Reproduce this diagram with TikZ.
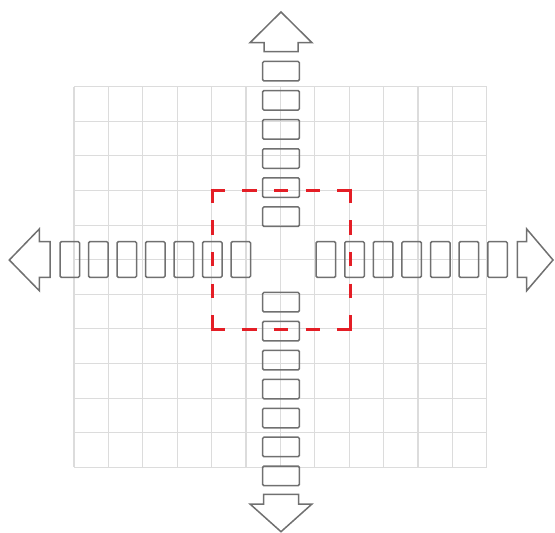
\documentclass[tikz,border=0pt]{standalone}
\begin{document}
\begin{tikzpicture}[x=1pt,y=-1pt,
  gridline/.style={draw=gridgray, line width=1.1pt},
  boxbase/.style={draw=boxgray, line width=1.5pt, rounded corners=1.2pt, inner sep=0pt, outer sep=0pt},
  vbox/.style={boxbase, minimum width=36.6pt, minimum height=19.5pt},
  hbox/.style={boxbase, minimum width=19.5pt, minimum height=35.6pt},
  bigarrow/.style={draw=boxgray, line width=1.5pt, line join=miter},
  reddash/.style={draw=dashred, line width=3pt, dash pattern=on 14.5pt off 17.2pt}]
\definecolor{boxgray}{HTML}{707070}
\definecolor{gridgray}{HTML}{DCDCDC}
\definecolor{dashred}{HTML}{E41E26}
\useasboundingbox (0,0) rectangle (555,533);
% grid
\foreach \i in {0,...,12} \draw[gridline] ({74+34.4*\i},86.7) -- ({74+34.4*\i},467.3);
\foreach \j in {0,...,11} \draw[gridline] (74,{86.7+34.6*\j}) -- (486.8,{86.7+34.6*\j});
% boxes
\foreach \k in {0,...,5} \node[vbox] (t\k) at (281,{216.7-29.1*\k}) {};
\foreach \k in {0,...,6} \node[vbox] (b\k) at (281,{302.2+28.95*\k}) {};
\foreach \k in {0,...,6} \node[hbox] (l\k) at ({240.8-28.5*\k},259.5) {};
\foreach \k in {0,...,6} \node[hbox] (r\k) at ({325.9+28.6*\k},259.5) {};
% arrows
\draw[bigarrow] (264,51.7) -- (264,42.7) -- (250,42.7) -- (281,12) -- (312,42.7) -- (298,42.7) -- (298,51.7) -- cycle;
\draw[bigarrow] (263.5,494.3) -- (298.5,494.3) -- (298.5,504) -- (312,504) -- (281,531.7) -- (250,504) -- (263.5,504) -- cycle;
\draw[bigarrow] (50,241.7) -- (50,277.3) -- (39.3,277.3) -- (39.3,290.7) -- (9.3,260) -- (39.3,229) -- (39.3,241.7) -- cycle;
\draw[bigarrow] (517.3,241.7) -- (526.7,241.7) -- (526.7,229) -- (553,260) -- (526.7,290.7) -- (526.7,277.3) -- (517.3,277.3) -- cycle;
% red dashed square
\coordinate (rtl) at (212,190);
\coordinate (rbr) at (350,329);
\draw[reddash] (210.5,190) -- (351.5,190);
\draw[reddash] (210.5,329) -- (351.5,329);
\draw[reddash] (212,188.5) -- (212,330.5);
\draw[reddash] (350,188.5) -- (350,330.5);
\end{tikzpicture}
\end{document}
